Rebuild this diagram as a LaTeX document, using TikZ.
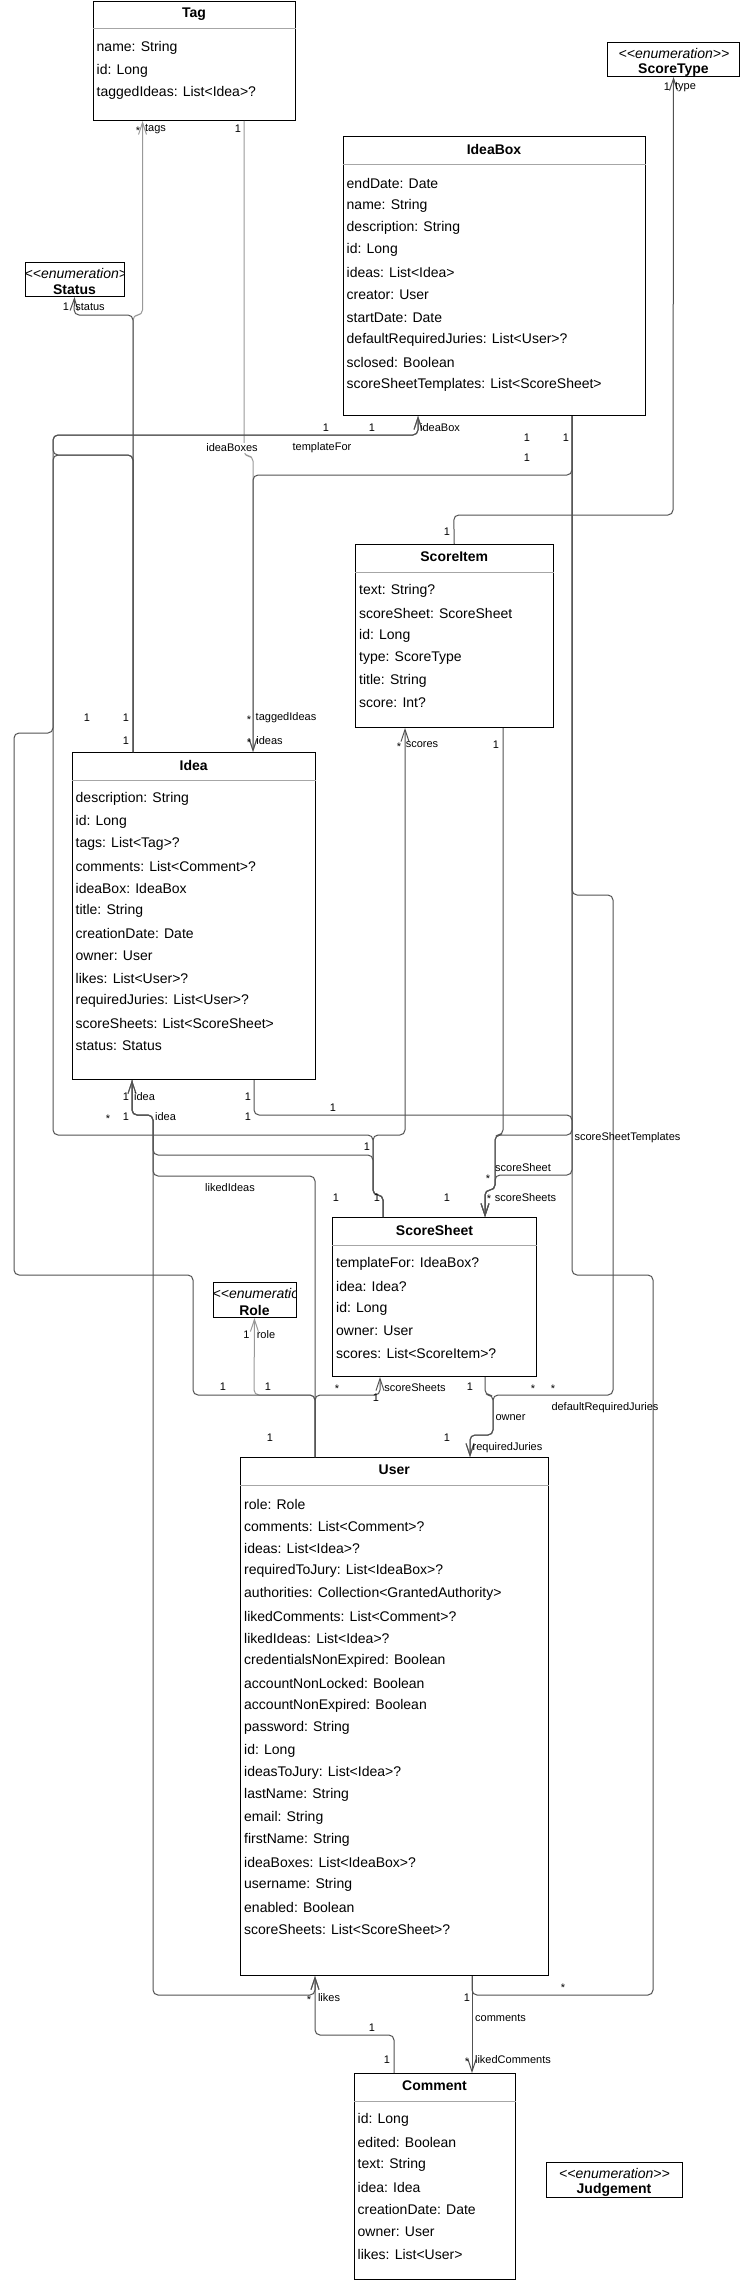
\documentclass[tikz,border=0pt]{standalone}
\usepackage{fontspec}
\setmainfont{Liberation Sans}
\usetikzlibrary{calc,arrows.meta}

\newcommand{\umlclass}[6]{%
  \node[classbox, minimum width=#4, minimum height=#5] (#1) at (#2,#3) {};
  \node[classtitle] (#1title) at ($(#1.north)+(0,13)$) {#6};
  \draw[sepline] ($(#1.north west)+(0,28)$) -- ($(#1.north east)+(0,28)$);}
\newcommand{\umlrows}[2]{%
  \foreach \rowtext [count=\i] in {#2}
    \node[attr] (#1row\i) at ($(#1.north west)+(4,24.6+22.4*\i)$) {\rowtext};}
\newcommand{\umlenum}[7]{%
  \node[classbox, minimum width=#4, minimum height=#5] (#1) at (#2,#3) {};
  \begin{scope}
    \clip (#1.north west) rectangle (#1.south east);
    \node[stereo] (#1stereo) at ($(#1.north west)+(#7,11)$) {<{}<enumeration>{}>};
  \end{scope}
  \node[classtitle] (#1title) at ($(#1.north)+(0,28)$) {#6};}

\begin{document}
\begin{tikzpicture}[x=1pt, y=-1pt,
    classbox/.style={draw, line width=1pt, anchor=north west, inner sep=0pt},
    classtitle/.style={font=\fontsize{14}{16}\selectfont\bfseries, inner sep=0pt},
    attr/.style={font=\fontsize{14}{16}\selectfont, anchor=west, inner sep=0pt},
    stereo/.style={font=\fontsize{14}{16}\selectfont\itshape, anchor=west, inner sep=0pt},
    sepline/.style={draw=black!35, line width=1pt},
    edge/.style={draw=black!68, line width=1pt, rounded corners=5pt},
    faint/.style={draw=black!40},
    lbl/.style={font=\fontsize{11}{13}\selectfont, inner sep=0pt},
    >={Straight Barb[length=12pt, width=8pt]}]
  \path[fill=white] (0,0) rectangle (740,2280);
  \useasboundingbox (0,0) rectangle (740,2280);

  \umlclass{tag}{92.5}{1}{202}{119}{Tag}
  \umlrows{tag}{name: String, id: Long, taggedIdeas: List<Idea>?}
  \umlclass{ideabox}{342.5}{136}{302}{279}{IdeaBox}
  \umlrows{ideabox}{endDate: Date, name: String, description: String, id: Long,
    ideas: List<Idea>, creator: User, startDate: Date,
    defaultRequiredJuries: List<User>?, sclosed: Boolean,
    scoreSheetTemplates: List<ScoreSheet>}
  \umlclass{scoreitem}{355}{544}{197.5}{183}{ScoreItem}
  \umlrows{scoreitem}{text: String?, scoreSheet: ScoreSheet, id: Long,
    type: ScoreType, title: String, score: Int?}
  \umlclass{idea}{71.5}{752}{243.5}{327}{Idea}
  \umlrows{idea}{description: String, id: Long, tags: List<Tag>?,
    comments: List<Comment>?, ideaBox: IdeaBox, title: String,
    creationDate: Date, owner: User, likes: List<User>?,
    requiredJuries: List<User>?, scoreSheets: List<ScoreSheet>, status: Status}
  \umlclass{scoresheet}{332}{1217}{204}{159}{ScoreSheet}
  \umlrows{scoresheet}{templateFor: IdeaBox?, idea: Idea?, id: Long,
    owner: User, scores: List<ScoreItem>?}
  \umlclass{user}{240}{1457}{307.5}{518}{User}
  \umlrows{user}{role: Role, comments: List<Comment>?, ideas: List<Idea>?,
    requiredToJury: List<IdeaBox>?, authorities: Collection<GrantedAuthority>,
    likedComments: List<Comment>?, likedIdeas: List<Idea>?,
    credentialsNonExpired: Boolean, accountNonLocked: Boolean,
    accountNonExpired: Boolean, password: String, id: Long,
    ideasToJury: List<Idea>?, lastName: String, email: String,
    firstName: String, ideaBoxes: List<IdeaBox>?, username: String,
    enabled: Boolean, scoreSheets: List<ScoreSheet>?}
  \umlclass{comment}{353.5}{2073}{161}{206}{Comment}
  \umlrows{comment}{id: Long, edited: Boolean, text: String, idea: Idea,
    creationDate: Date, owner: User, likes: List<User>}

  \umlenum{scoretype}{607}{42}{132}{34}{ScoreType}{11.5}
  \umlenum{status}{24.5}{262}{99}{34}{Status}{0}
  \umlenum{role}{212.5}{1282}{83}{35}{Role}{0}
  \umlenum{judgement}{545.5}{2162}{136}{35}{Judgement}{13.5}

  \begin{scope}[edge, faint]
    \draw[<-] ($(tag.south west)+(50,0)$) -- (142.5,315) -- (133,315) -- ($(idea.north west)+(61.5,0)$);
    \draw[->] ($(tag.south west)+(151.5,0)$) -- (244,456) -- (253,456) -- ($(idea.north west)+(181.5,0)$);
    \draw[->] ($(user.north west)+(75,0)$) -- (315,1395) -- (254,1395) -- (role.south);
  \end{scope}
  \begin{scope}[edge]
    \draw[->] ($(idea.north west)+(61.5,0)$) -- (133,315) -- (74,315) -- (status.south);
    \draw[->] ($(ideabox.south west)+(229.5,0)$) -- (572,475) -- (253,475) -- ($(idea.north west)+(181.5,0)$);
    \draw[->] ($(idea.north west)+(61.5,0)$) -- (133,455) -- (53,455) -- (53,435) -- (418,435) -- ($(ideabox.south west)+(75.5,0)$);
    \draw[->] ($(scoresheet.north west)+(51,0)$) -- (383,1195) -- (373,1195) -- (373,1135) -- (53,1135) -- (53,435) -- (418,435) -- ($(ideabox.south west)+(75.5,0)$);
    \draw ($(idea.north west)+(61.5,0)$) -- (133,455) -- (53,455) -- (53,733) -- (14,733) -- (14,1275) -- (193,1275) -- (193,1395) -- (315,1395) -- ($(user.north west)+(75,0)$);
    \draw[->] ($(scoresheet.north west)+(51,0)$) -- (383,1195) -- (373,1195) -- (373,1135) -- (405,1135) -- ($(scoreitem.south west)+(50,0)$);
    \draw[->] ($(scoresheet.north west)+(51,0)$) -- (383,1195) -- (373,1195) -- (373,1155) -- (153,1155) -- (153,1115) -- (132,1115) -- ($(idea.south west)+(60.5,0)$);
    \draw[->] ($(user.north west)+(75,0)$) -- (315,1176) -- (153,1176) -- (153,1115) -- (132,1115) -- ($(idea.south west)+(60.5,0)$);
    \draw[->] ($(idea.south west)+(60.5,0)$) -- (132,1115) -- (153,1115) -- (153,1995) -- (315,1995) -- ($(user.south west)+(75,0)$);
    \draw[->] ($(idea.south west)+(182.5,0)$) -- (254,1115) -- (572,1115) -- (572,1135) -- (495,1135) -- (495,1190) -- (485,1190) -- ($(scoresheet.north west)+(153,0)$);
    \draw[->] ($(scoreitem.south west)+(148,0)$) -- (503,1135) -- (495,1135) -- (495,1190) -- (485,1190) -- ($(scoresheet.north west)+(153,0)$);
    \draw[->] ($(ideabox.south west)+(229.5,0)$) -- (572,1175) -- (495,1175) -- (495,1190) -- (485,1190) -- ($(scoresheet.north west)+(153,0)$);
    \draw[->] ($(ideabox.south west)+(229.5,0)$) -- (572,895) -- (613,895) -- (613,1395) -- (493,1395) -- (493,1435) -- (470,1435) -- ($(user.north west)+(230,0)$);
    \draw ($(ideabox.south west)+(229.5,0)$) -- (572,1275) -- (653,1275) -- (653,1995) -- (472,1995) -- ($(user.south west)+(232,0)$);
    \draw[->] ($(user.south west)+(232,0)$) -- ($(comment.north west)+(118.5,0)$);
    \draw[->] ($(scoresheet.south west)+(153,0)$) -- (485,1395) -- (493,1395) -- (493,1435) -- (470,1435) -- ($(user.north west)+(230,0)$);
    \draw[->] ($(user.north west)+(75,0)$) -- (315,1395) -- (380,1395) -- ($(scoresheet.south west)+(48,0)$);
    \draw[->] ($(comment.north west)+(40.5,0)$) -- (394,2035) -- (315,2035) -- ($(user.south west)+(75,0)$);
    \draw[->] (scoreitem.north) -- (453.75,515) -- (673,515) -- (scoretype.south);
  \end{scope}

  \foreach \lx/\ly/\lt [count=\k] in {138/131/*, 155.5/129/tags, 238/129/1,
      66/307/1, 90/307/status, 667/87/1, 685.5/87/type,
      326/428/1, 372/428/1, 440/428/ideaBox, 322/448/templateFor,
      527/438/1, 566/438/1, 527/458/1, 447/532/1,
      87/718/1, 126/718/1, 126/741/1, 249/720/*, 286/718/taggedIdeas,
      249/743/*, 269.5/741/ideas, 399/747/*, 422/745/scores, 496/745/1,
      126/1097/1, 144.5/1097/idea, 108/1119/*, 126/1117/1, 165.5/1117/idea,
      248/1097/1, 248/1117/1, 333/1108/1, 367/1147/1,
      627.5/1138/scoreSheetTemplates, 523/1168/scoreSheet, 488/1179/*,
      489/1199/*, 525.5/1198/scoreSheets, 230/1188/likedIdeas,
      336/1198/1, 377/1198/1, 447/1198/1, 246.5/1335/1, 266/1335/role,
      223/1387/1, 268/1387/1, 337/1389/*, 376/1398/1, 415/1388/scoreSheets,
      470/1387/1, 533/1389/*, 553/1389/*, 605/1408/defaultRequiredJuries,
      510.5/1418/owner, 270/1438/1, 447/1438/1, 507.5/1448/requiredJuries,
      309/2000/*, 329/1998/likes, 467/1998/1, 563/1988/*,
      500.5/2018/comments, 372/2028/1, 387/2060/1, 467/2062/*,
      513/2060/likedComments}
    \node[lbl] (lab\k) at (\lx,\ly) {\lt};
  \node[lbl, fill=white, inner sep=1pt] (labboxes) at (232,448) {ideaBoxes};
\end{tikzpicture}
\end{document}
